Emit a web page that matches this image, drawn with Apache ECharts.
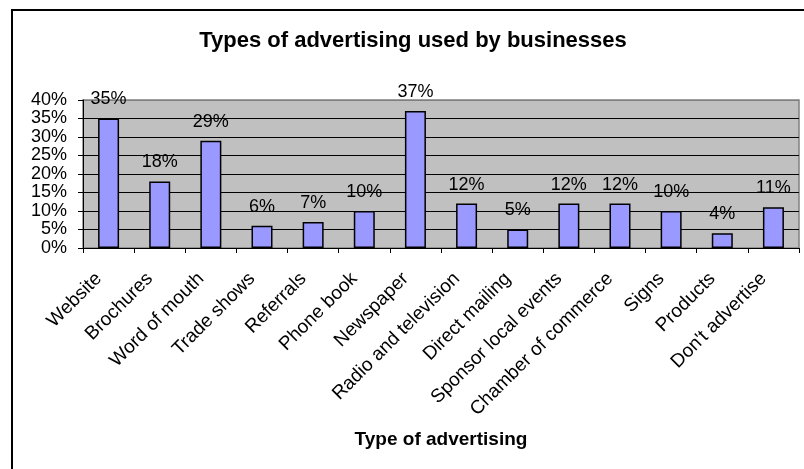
<!DOCTYPE html>
<html>
<head>
<meta charset="utf-8">
<title>Types of advertising used by businesses</title>
<script src="https://cdn.jsdelivr.net/npm/echarts@6/dist/echarts.min.js"></script>
<style>
  html, body { margin: 0; padding: 0; background: #fff; }
  #chart { width: 804px; height: 469px; }
</style>
</head>
<body>
<div id="chart"></div>
<script>
// Advertising channels and the share of businesses using each (percent)
const categories = [
  'Website', 'Brochures', 'Word of mouth', 'Trade shows', 'Referrals',
  'Phone book', 'Newspaper', 'Radio and television', 'Direct mailing',
  'Sponsor local events', 'Chamber of commerce', 'Signs', 'Products',
  "Don't advertise"
];
const shares = [35, 18, 29, 6, 7, 10, 37, 12, 5, 12, 12, 10, 4, 11];
const yTicks = { min: 0, max: 40, step: 5 };

const FONT = "'Liberation Sans', Arial, sans-serif";

const chart = echarts.init(document.getElementById('chart'), null, { renderer: 'canvas' });

// gridline colours: black everywhere except the top edge, which follows the plot border
const gridColors = [];
for (let v = yTicks.min; v <= yTicks.max; v += yTicks.step) {
  gridColors.push(v === yTicks.max ? '#808080' : '#000000');
}

chart.setOption({
  backgroundColor: '#ffffff',
  animation: false,
  textStyle: { fontFamily: FONT },
  title: {
    text: 'Types of advertising used by businesses',
    left: 408,
    top: 25,
    textAlign: 'center',
    textStyle: { fontFamily: FONT, fontSize: 22, fontWeight: 'bold', color: '#000' }
  },
  graphic: [{
    type: 'rect',
    shape: { x: 12, y: 10, width: 820, height: 500 },
    style: { fill: 'none', stroke: '#000', lineWidth: 2 },
    z: 100
  }],
  grid: {
    left: 83, right: 5, top: 100, bottom: 221,
    show: true,
    backgroundColor: '#c0c0c0',
    borderColor: '#808080',
    borderWidth: 1.5
  },
  xAxis: {
    type: 'category',
    data: categories,
    name: 'Type of advertising',
    nameLocation: 'middle',
    nameGap: 182,
    nameTextStyle: { fontFamily: FONT, fontSize: 19, fontWeight: 'bold', color: '#000' },
    axisLine: { show: true, lineStyle: { color: '#000', width: 1 } },
    axisTick: { show: true, length: 5, lineStyle: { color: '#000' } },
    axisLabel: {
      rotate: 45, interval: 0, margin: 18,
      padding: [0, 14, 0, 0],
      fontFamily: FONT, fontSize: 19, color: '#000'
    },
    splitLine: { show: false }
  },
  yAxis: {
    type: 'value',
    min: yTicks.min,
    max: yTicks.max,
    interval: yTicks.step,
    axisLine: { show: true, lineStyle: { color: '#000', width: 1 } },
    axisTick: { show: true, length: 5, lineStyle: { color: '#000' } },
    axisLabel: {
      formatter: '{value}%', margin: 16,
      fontFamily: FONT, fontSize: 18, color: '#000'
    },
    splitLine: { show: true, lineStyle: { color: gridColors, width: 1 } }
  },
  series: [{
    type: 'bar',
    data: shares,
    barWidth: 21,
    itemStyle: { color: '#9999ff', borderColor: '#000', borderWidth: 1.5 },
    label: {
      show: true,
      position: 'top',
      distance: 10,
      formatter: p => p.value + '%',
      fontFamily: FONT, fontSize: 18, color: '#000'
    }
  }]
});
</script>
</body>
</html>
